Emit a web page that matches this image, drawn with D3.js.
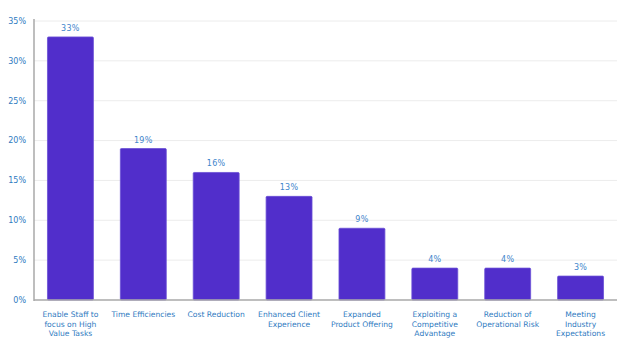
<!DOCTYPE html>
<html><head><meta charset="utf-8">
<script src="https://cdn.jsdelivr.net/npm/d3@7"></script>
<style>body{margin:0;background:#fff}svg{display:block}</style>
</head><body>
<svg id="c" width="631" height="363"></svg>
<script>
const categories = [
  ["Enable Staff to","focus on High","Value Tasks"],
  ["Time Efficiencies"],
  ["Cost Reduction"],
  ["Enhanced Client","Experience"],
  ["Expanded","Product Offering"],
  ["Exploiting a","Competitive","Advantage"],
  ["Reduction of","Operational Risk"],
  ["Meeting","Industry","Expectations"]
];
const values = [33, 19, 16, 13, 9, 4, 4, 3];
const yTicks = [0, 5, 10, 15, 20, 25, 30, 35];

const svg = d3.select("#c");
const L = 34, R = 617, T = 21, B = 300;
const keys = categories.map((c,i)=>i);
const x = d3.scaleBand().domain(keys).range([L, R]).paddingInner(0.37).paddingOuter(0.185);
const y = d3.scaleLinear().domain([0, 35]).range([B, T]);

// gridlines
svg.append("g").selectAll("line").data(yTicks.filter(d=>d>0)).join("line")
  .attr("x1", L).attr("x2", R).attr("y1", d=>y(d)).attr("y2", d=>y(d))
  .attr("stroke", "#ececec").attr("stroke-width", 1);

// y tick labels
svg.append("g").selectAll("text").data(yTicks).join("text")
  .attr("x", 26).attr("y", d=>y(d)).attr("dy", "0.35em")
  .attr("text-anchor", "end")
  .attr("font-family", "DejaVu Sans, Verdana, sans-serif").attr("font-size", 8)
  .attr("fill", "#2f7bbf").text(d=>d+"%");

// bars
svg.append("g").selectAll("rect").data(values).join("rect")
  .attr("x", (d,i)=>x(i)).attr("width", x.bandwidth())
  .attr("y", d=>y(d)).attr("height", d=>B - y(d))
  .attr("fill", "#512ecb").attr("stroke", "#6a4fd6").attr("stroke-width", 0.8)
  .attr("rx", 1);

// value labels
svg.append("g").selectAll("text").data(values).join("text")
  .attr("x", (d,i)=>x(i)+x.bandwidth()/2).attr("y", d=>y(d)-6)
  .attr("text-anchor", "middle")
  .attr("font-family", "DejaVu Sans, Verdana, sans-serif").attr("font-size", 8)
  .attr("letter-spacing", 0.3)
  .attr("fill", "#3f86cc").text(d=>d+"%");

// axes lines
svg.append("line").attr("x1", L).attr("x2", L).attr("y1", T-2).attr("y2", B+1)
  .attr("stroke", "#a8a8a8").attr("stroke-width", 1.5);
svg.append("line").attr("x1", L).attr("x2", R).attr("y1", B).attr("y2", B)
  .attr("stroke", "#a8a8a8").attr("stroke-width", 1.5);

// category labels
const cg = svg.append("g").selectAll("text").data(categories).join("text")
  .attr("x", (d,i)=>x(i)+x.bandwidth()/2).attr("y", 317)
  .attr("text-anchor", "middle")
  .attr("font-family", "DejaVu Sans, Verdana, sans-serif").attr("font-size", 7.6)
  .attr("fill", "#2f7bbf");
cg.each(function(lines){
  d3.select(this).selectAll("tspan").data(lines).join("tspan")
    .attr("x", d3.select(this).attr("x"))
    .attr("dy", (d,j)=>j===0?0:9.5).text(d=>d);
});
</script>
</body></html>
